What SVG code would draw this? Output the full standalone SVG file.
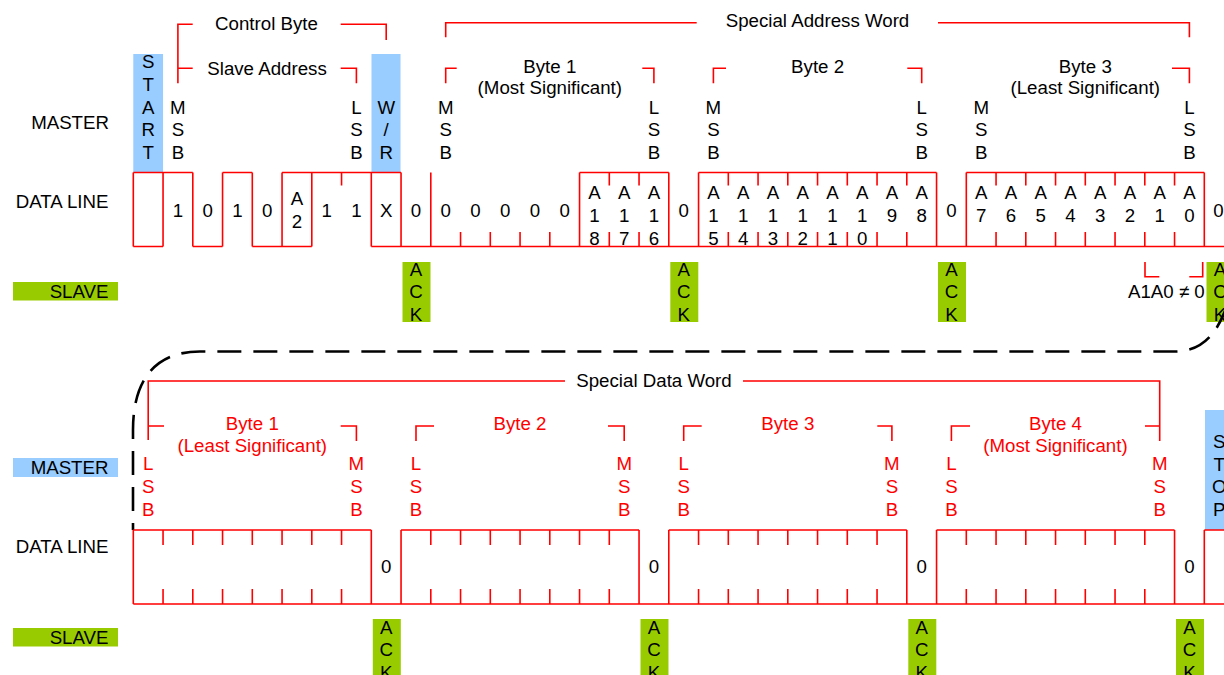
<svg xmlns="http://www.w3.org/2000/svg" width="1224" height="675" viewBox="0 0 1224 675">
<style>
text{font-family:"Liberation Sans",Arial,sans-serif;font-size:18.7px;fill:#000;text-anchor:middle}
.e{text-anchor:end}
.s{text-anchor:start}
.r{fill:#FF0000}
.w{fill:none;stroke:#FF0000;stroke-width:1.6}
.m{fill:#99CCFF}
.g{fill:#99CC00}
.d{fill:none;stroke:#000;stroke-width:2.6;stroke-dasharray:24 12}
</style>
<rect width="1224" height="675" fill="#fff"/>

<g id="row-labels">
<text class="e" x="109" y="128.5">MASTER</text>
<text class="e" x="108.5" y="208">DATA LINE</text>
<rect class="g" x="13" y="282" width="105" height="18.5"/>
<text class="e" x="108.5" y="297.5">SLAVE</text>
<rect class="m" x="13" y="458" width="105" height="19"/>
<text class="e" x="108.5" y="473.5">MASTER</text>
<text class="e" x="108.5" y="553">DATA LINE</text>
<rect class="g" x="13" y="628" width="105" height="18.5"/>
<text class="e" x="108.5" y="643.5">SLAVE</text>
</g>

<g id="start">
<rect class="m" x="133.3" y="54" width="29.75" height="118.5"/>
<text><tspan x="148.2" y="68">S</tspan><tspan x="148.2" y="90.8">T</tspan><tspan x="148.2" y="113.6">A</tspan><tspan x="148.2" y="136.4">R</tspan><tspan x="148.2" y="159.2">T</tspan></text>
</g>
<g id="wr">
<rect class="m" x="371.5" y="54" width="29" height="118.5"/>
<text><tspan x="386.2" y="113.5">W</tspan><tspan x="386.2" y="136.3">/</tspan><tspan x="386.2" y="159.1">R</tspan></text>
</g>
<g id="stop">
<rect class="m" x="1205" y="410" width="30" height="120"/>
<text><tspan x="1219.2" y="448">S</tspan><tspan x="1219.2" y="470.7">T</tspan><tspan x="1219.2" y="493.4">O</tspan><tspan x="1219.2" y="516">P</tspan></text>
</g>

<g id="top-bit-labels">
<text><tspan x="177.9" y="113.5">M</tspan><tspan x="177.9" y="136.3">S</tspan><tspan x="177.9" y="159.1">B</tspan></text>
<text><tspan x="356.4" y="113.5">L</tspan><tspan x="356.4" y="136.3">S</tspan><tspan x="356.4" y="159.1">B</tspan></text>
<text><tspan x="445.7" y="113.5">M</tspan><tspan x="445.7" y="136.3">S</tspan><tspan x="445.7" y="159.1">B</tspan></text>
<text><tspan x="653.9" y="113.5">L</tspan><tspan x="653.9" y="136.3">S</tspan><tspan x="653.9" y="159.1">B</tspan></text>
<text><tspan x="713.4" y="113.5">M</tspan><tspan x="713.4" y="136.3">S</tspan><tspan x="713.4" y="159.1">B</tspan></text>
<text><tspan x="921.7" y="113.5">L</tspan><tspan x="921.7" y="136.3">S</tspan><tspan x="921.7" y="159.1">B</tspan></text>
<text><tspan x="981.2" y="113.5">M</tspan><tspan x="981.2" y="136.3">S</tspan><tspan x="981.2" y="159.1">B</tspan></text>
<text><tspan x="1189.4" y="113.5">L</tspan><tspan x="1189.4" y="136.3">S</tspan><tspan x="1189.4" y="159.1">B</tspan></text>
</g>

<g id="top-brackets">
<path class="w" d="M177.9 83.3V24.3H192.7M340.7 24.3H386.2V40M177.9 68.3H192.7M340.7 68.3H356.4V83.3"/>
<text x="266.5" y="29.5">Control Byte</text>
<text x="267" y="75">Slave Address</text>
<path class="w" d="M445.7 37.3V22.7H696.7M938 22.7H1189.4V37.3"/>
<text x="817.5" y="27">Special Address Word</text>
<path class="w" d="M445.7 83.3V68.3H456.7M642.3 68.3H653.9V83.3"/>
<text x="549.8" y="72.5">Byte 1</text>
<text x="549.8" y="94">(Most Significant)</text>
<path class="w" d="M713.4 83.3V68.3H726M907.3 68.3H921.7V83.3"/>
<text x="817.6" y="72.5">Byte 2</text>
<path class="w" d="M1172 68.3H1189.4V83.3"/>
<text x="1085.3" y="72.5">Byte 3</text>
<text x="1085.3" y="94">(Least Significant)</text>
</g>

<g id="top-data-line">
<path class="w" d="M133.3 172.5H192.8M222.55 172.5H252.3M282.05 172.5H401.05M579.55 172.5H668.8M698.55 172.5H936.55M966.3 172.5H1204.3
M133.3 246.5H163.05M192.8 246.5H222.55M252.3 246.5H311.8M371.3 246.5H1224
M133.3 172.5V246.5M163.05 172.5V246.5M192.8 172.5V246.5M222.55 172.5V246.5M252.3 172.5V246.5M282.05 172.5V246.5M311.8 172.5V246.5M371.3 172.5V246.5M401.05 172.5V246.5M430.8 172.5V246.5M579.55 172.5V246.5M668.8 172.5V246.5M698.55 172.5V246.5M936.55 172.5V246.5M966.3 172.5V246.5M1204.3 172.5V246.5
M341.55 172.5V185.5M609.3 172.5V185.5M639.05 172.5V185.5
M728.3 172.5V185.5M758.05 172.5V185.5M787.8 172.5V185.5M817.55 172.5V185.5M847.3 172.5V185.5M877.05 172.5V185.5M906.8 172.5V185.5
M996.05 172.5V185.5M1025.8 172.5V185.5M1055.55 172.5V185.5M1085.3 172.5V185.5M1115.05 172.5V185.5M1144.8 172.5V185.5M1174.55 172.5V185.5
M460.55 232V246.5M490.3 232V246.5M520.05 232V246.5M549.8 232V246.5M609.3 232V246.5M639.05 232V246.5
M728.3 232V246.5M758.05 232V246.5M787.8 232V246.5M817.55 232V246.5M847.3 232V246.5M877.05 232V246.5M906.8 232V246.5
M996.05 232V246.5M1025.8 232V246.5M1055.55 232V246.5M1085.3 232V246.5M1115.05 232V246.5M1144.8 232V246.5M1174.55 232V246.5"/>
<text x="177.9" y="216.7">1</text>
<text x="207.7" y="216.7">0</text>
<text x="237.4" y="216.7">1</text>
<text x="267.2" y="216.7">0</text>
<text><tspan x="296.9" y="205">A</tspan><tspan x="296.9" y="227.5">2</tspan></text>
<text x="326.7" y="216.7">1</text>
<text x="356.4" y="216.7">1</text>
<text x="386.2" y="216.7">X</text>
<text x="415.9" y="216.7">0</text>
<text x="445.7" y="216.7">0</text>
<text x="475.4" y="216.7">0</text>
<text x="505.2" y="216.7">0</text>
<text x="534.9" y="216.7">0</text>
<text x="564.7" y="216.7">0</text>
<text><tspan x="594.4" y="199.3">A</tspan><tspan x="594.4" y="222">1</tspan><tspan x="594.4" y="244.8">8</tspan></text>
<text><tspan x="624.2" y="199.3">A</tspan><tspan x="624.2" y="222">1</tspan><tspan x="624.2" y="244.8">7</tspan></text>
<text><tspan x="653.9" y="199.3">A</tspan><tspan x="653.9" y="222">1</tspan><tspan x="653.9" y="244.8">6</tspan></text>
<text x="683.7" y="216.7">0</text>
<text><tspan x="713.4" y="199.3">A</tspan><tspan x="713.4" y="222">1</tspan><tspan x="713.4" y="244.8">5</tspan></text>
<text><tspan x="743.2" y="199.3">A</tspan><tspan x="743.2" y="222">1</tspan><tspan x="743.2" y="244.8">4</tspan></text>
<text><tspan x="772.9" y="199.3">A</tspan><tspan x="772.9" y="222">1</tspan><tspan x="772.9" y="244.8">3</tspan></text>
<text><tspan x="802.7" y="199.3">A</tspan><tspan x="802.7" y="222">1</tspan><tspan x="802.7" y="244.8">2</tspan></text>
<text><tspan x="832.4" y="199.3">A</tspan><tspan x="832.4" y="222">1</tspan><tspan x="832.4" y="244.8">1</tspan></text>
<text><tspan x="862.2" y="199.3">A</tspan><tspan x="862.2" y="222">1</tspan><tspan x="862.2" y="244.8">0</tspan></text>
<text><tspan x="891.9" y="199.3">A</tspan><tspan x="891.9" y="222">9</tspan></text>
<text><tspan x="921.7" y="199.3">A</tspan><tspan x="921.7" y="222">8</tspan></text>
<text x="951.4" y="216.7">0</text>
<text><tspan x="981.2" y="199.3">A</tspan><tspan x="981.2" y="222">7</tspan></text>
<text><tspan x="1010.9" y="199.3">A</tspan><tspan x="1010.9" y="222">6</tspan></text>
<text><tspan x="1040.7" y="199.3">A</tspan><tspan x="1040.7" y="222">5</tspan></text>
<text><tspan x="1070.4" y="199.3">A</tspan><tspan x="1070.4" y="222">4</tspan></text>
<text><tspan x="1100.2" y="199.3">A</tspan><tspan x="1100.2" y="222">3</tspan></text>
<text><tspan x="1129.9" y="199.3">A</tspan><tspan x="1129.9" y="222">2</tspan></text>
<text><tspan x="1159.7" y="199.3">A</tspan><tspan x="1159.7" y="222">1</tspan></text>
<text><tspan x="1189.4" y="199.3">A</tspan><tspan x="1189.4" y="222">0</tspan></text>
<text x="1218.5" y="216.7">0</text>
</g>

<g id="top-acks">
<rect class="g" x="402.5" y="262" width="28" height="60"/>
<text><tspan x="415.9" y="275.5">A</tspan><tspan x="415.9" y="298">C</tspan><tspan x="415.9" y="320.5">K</tspan></text>
<rect class="g" x="670.3" y="262" width="28" height="60"/>
<text><tspan x="683.7" y="275.5">A</tspan><tspan x="683.7" y="298">C</tspan><tspan x="683.7" y="320.5">K</tspan></text>
<rect class="g" x="938" y="262" width="28" height="60"/>
<text><tspan x="951.4" y="275.5">A</tspan><tspan x="951.4" y="298">C</tspan><tspan x="951.4" y="320.5">K</tspan></text>
<rect class="g" x="1206.5" y="262" width="28" height="60"/>
<text><tspan x="1220" y="275.5">A</tspan><tspan x="1220" y="298">C</tspan><tspan x="1220" y="320.5">K</tspan></text>
</g>

<g id="a1a0-note">
<path class="w" d="M1145 262V276.7H1159.3M1189.3 276.7H1202.7V262"/>
<text class="s" x="1128" y="297.5">A1A0 ≠ 0</text>
</g>

<g id="connectors">
<path class="d" d="M1227 306C1218 330 1205 351.5 1175 351.5L200 351.5C155 351.5 133 380 133 430L133 530"/>
</g>

<g id="bottom-brackets">
<path class="w" d="M148.2 440V381H565M743 381H1159.7V441"/>
<text x="654" y="387">Special Data Word</text>
<path class="w" d="M148.2 426H164M340.7 426H356.4V441"/>
<text class="r" x="252.3" y="430">Byte 1</text>
<text class="r" x="252.3" y="452">(Least Significant)</text>
<path class="w" d="M416 441V426H434M608 426H624.2V441"/>
<text class="r" x="520" y="430">Byte 2</text>
<path class="w" d="M683.7 441V426H701.7M877.3 426H891.9V441"/>
<text class="r" x="787.8" y="430">Byte 3</text>
<path class="w" d="M951.4 441V426H970M1145 426H1159.7"/>
<text class="r" x="1055.5" y="430">Byte 4</text>
<text class="r" x="1055.5" y="452">(Most Significant)</text>
</g>

<g id="bottom-bit-labels">
<text class="r"><tspan x="148.2" y="470">L</tspan><tspan x="148.2" y="493">S</tspan><tspan x="148.2" y="516">B</tspan></text>
<text class="r"><tspan x="356.4" y="470">M</tspan><tspan x="356.4" y="493">S</tspan><tspan x="356.4" y="516">B</tspan></text>
<text class="r"><tspan x="415.9" y="470">L</tspan><tspan x="415.9" y="493">S</tspan><tspan x="415.9" y="516">B</tspan></text>
<text class="r"><tspan x="624.2" y="470">M</tspan><tspan x="624.2" y="493">S</tspan><tspan x="624.2" y="516">B</tspan></text>
<text class="r"><tspan x="683.7" y="470">L</tspan><tspan x="683.7" y="493">S</tspan><tspan x="683.7" y="516">B</tspan></text>
<text class="r"><tspan x="891.9" y="470">M</tspan><tspan x="891.9" y="493">S</tspan><tspan x="891.9" y="516">B</tspan></text>
<text class="r"><tspan x="951.4" y="470">L</tspan><tspan x="951.4" y="493">S</tspan><tspan x="951.4" y="516">B</tspan></text>
<text class="r"><tspan x="1159.7" y="470">M</tspan><tspan x="1159.7" y="493">S</tspan><tspan x="1159.7" y="516">B</tspan></text>
</g>

<g id="bottom-data-line">
<path class="w" d="M133.3 530H371.3M401.05 530H639.05M668.8 530H906.8M936.55 530H1174.55M1204.3 530H1224M133.3 604H1224
M133.3 530V604M371.3 530V604M401.05 530V604M639.05 530V604M668.8 530V604M906.8 530V604M936.55 530V604M1174.55 530V604M1204.3 530V604
M163.05 530V545M192.8 530V545M222.55 530V545M252.3 530V545M282.05 530V545M311.8 530V545M341.55 530V545
M430.8 530V545M460.55 530V545M490.3 530V545M520.05 530V545M549.8 530V545M579.55 530V545M609.3 530V545
M698.55 530V545M728.3 530V545M758.05 530V545M787.8 530V545M817.55 530V545M847.3 530V545M877.05 530V545
M966.3 530V545M996.05 530V545M1025.8 530V545M1055.55 530V545M1085.3 530V545M1115.05 530V545M1144.8 530V545
M163.05 589V604M192.8 589V604M222.55 589V604M252.3 589V604M282.05 589V604M311.8 589V604M341.55 589V604
M430.8 589V604M460.55 589V604M490.3 589V604M520.05 589V604M549.8 589V604M579.55 589V604M609.3 589V604
M698.55 589V604M728.3 589V604M758.05 589V604M787.8 589V604M817.55 589V604M847.3 589V604M877.05 589V604
M966.3 589V604M996.05 589V604M1025.8 589V604M1055.55 589V604M1085.3 589V604M1115.05 589V604M1144.8 589V604"/>
<text x="386.2" y="573">0</text>
<text x="653.9" y="573">0</text>
<text x="921.7" y="573">0</text>
<text x="1189.4" y="573">0</text>
</g>

<g id="bottom-acks">
<rect class="g" x="372.8" y="619" width="28" height="60"/>
<text><tspan x="386.2" y="633.5">A</tspan><tspan x="386.2" y="656.3">C</tspan><tspan x="386.2" y="679">K</tspan></text>
<rect class="g" x="640.5" y="619" width="28" height="60"/>
<text><tspan x="653.9" y="633.5">A</tspan><tspan x="653.9" y="656.3">C</tspan><tspan x="653.9" y="679">K</tspan></text>
<rect class="g" x="908.3" y="619" width="28" height="60"/>
<text><tspan x="921.7" y="633.5">A</tspan><tspan x="921.7" y="656.3">C</tspan><tspan x="921.7" y="679">K</tspan></text>
<rect class="g" x="1176" y="619" width="28" height="60"/>
<text><tspan x="1189.4" y="633.5">A</tspan><tspan x="1189.4" y="656.3">C</tspan><tspan x="1189.4" y="679">K</tspan></text>
</g>
</svg>
